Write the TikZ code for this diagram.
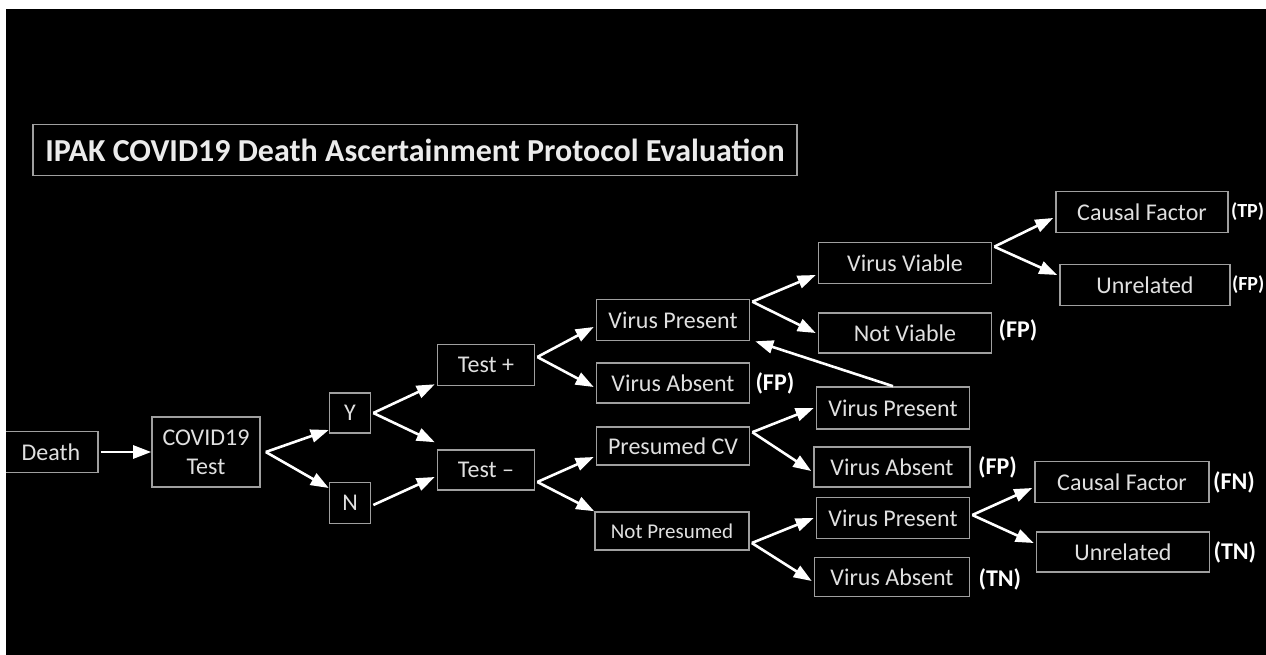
\documentclass[tikz,border=0pt]{standalone}
\usepackage{fontspec}
\setmainfont{Carlito}
\usetikzlibrary{arrows.meta, positioning, calc}

\begin{document}
\begin{tikzpicture}[
    x=1pt, y=-1pt,
    box/.style={rectangle, draw=gray!75, line width=1.6pt, minimum height=40pt, inner sep=0pt, align=center, text=white!88!black, font=\fontsize{24}{29}\selectfont},
    outcome/.style={inner sep=0pt, text=white, font=\bfseries\fontsize{24}{26}\selectfont},
    arrow/.style={-{Triangle[length=18pt,width=13pt]}, line width=2.6pt, white}
]

    % --- Background ---
    \useasboundingbox (0,0) rectangle (1266,655);
    \fill[white] (0,0) rectangle (1266,655);
    \clip (6,9) rectangle (1266,655);
    \fill[black] (6,9) rectangle (1266,655);

    % --- Title ---
    \node[box, minimum width=764pt, minimum height=51pt, text=white!92!black, font=\bfseries\fontsize{32}{34}\selectfont] (title) at (415,150) {IPAK COVID19 Death Ascertainment Protocol Evaluation};

    % --- First stages ---
    \node[box, minimum width=94pt, minimum height=41pt] (death) at (51,452) {Death};
    \node[box, minimum width=108pt, minimum height=70pt] (test) at (206,452) {COVID19\\Test};
    \node[box, minimum width=41pt] (yes) at (350,413) {Y};
    \node[box, minimum width=41pt, minimum height=41pt] (no) at (350,503) {N};
    \node[box, minimum width=97pt, minimum height=41pt] (test-pos) at (486,365) {Test +};
    \node[box, minimum width=97pt] (test-neg) at (486,470) {Test --};

    % --- Third column ---
    \node[box, minimum width=153pt, minimum height=41pt] (present-a) at (673,320) {Virus Present};
    \node[box, minimum width=153pt] (absent-a) at (673,383) {Virus Absent};
    \node[box, minimum width=153pt, minimum height=38pt] (presumed) at (673,446) {Presumed CV};
    \node[box, minimum width=154pt, minimum height=38pt, font=\fontsize{21}{24}\selectfont] (not-presumed) at (672,531) {Not Presumed};

    % --- Fourth column ---
    \node[box, minimum width=173pt, minimum height=41pt] (viable) at (905,263) {Virus Viable};
    \node[box, minimum width=173pt] (not-viable) at (905,333) {Not Viable};
    \node[box, minimum width=153pt, minimum height=42pt] (present-b) at (893,408) {Virus Present};
    \node[box, minimum width=156pt] (absent-b) at (892,467) {Virus Absent};
    \node[box, minimum width=153pt, minimum height=41pt] (present-c) at (893,518) {Virus Present};
    \node[box, minimum width=155pt, minimum height=39pt] (absent-c) at (892,577) {Virus Absent};

    % --- Last column ---
    \node[box, minimum width=172pt, minimum height=41pt] (causal-a) at (1142,212) {Causal Factor};
    \node[box, minimum width=170pt, minimum height=41pt] (unrelated-a) at (1145,285) {Unrelated};
    \node[box, minimum width=174pt, minimum height=41pt] (causal-b) at (1122,482) {Causal Factor};
    \node[box, minimum width=173pt] (unrelated-b) at (1123,552) {Unrelated};

    % --- Outcome labels ---
    \node[outcome, right=5pt of absent-a] (fp-a) {(FP)};
    \node[outcome, right=6pt of not-viable, yshift=3pt] (fp-b) {(FP)};
    \node[outcome, right=2pt of causal-a, font=\bfseries\fontsize{20}{22}\selectfont] (tp) {(TP)};
    \node[outcome, right=1pt of unrelated-a, font=\bfseries\fontsize{20}{22}\selectfont] (fp-c) {(FP)};
    \node[outcome, right=7pt of absent-b] (fp-d) {(FP)};
    \node[outcome, right=8pt of absent-c, yshift=-2pt] (tn-a) {(TN)};
    \node[outcome, right=3pt of causal-b] (fn) {(FN)};
    \node[outcome, right=3pt of unrelated-b] (tn-b) {(TN)};

    % --- Connections ---
    \draw[arrow] ([xshift=2pt]death.east) -- (test.west);

    \draw[arrow] ([xshift=5pt]test.east) -- ([yshift=-17pt]yes.west);
    \draw[arrow] ([xshift=5pt]test.east) -- ([yshift=15pt]no.west);

    \draw[arrow] ([xshift=2pt]yes.east) -- ([xshift=-2pt,yshift=2pt]test-pos.south west);
    \draw[arrow] ([xshift=2pt]yes.east) -- ([xshift=-2pt,yshift=7pt]test-neg.north west);
    \draw[arrow] ([xshift=2pt,yshift=-2pt]no.east) -- ([xshift=-2pt,yshift=-7pt]test-neg.west);

    \draw[arrow] ([xshift=2pt,yshift=8pt]test-pos.east) -- ([xshift=-2pt,yshift=-7pt]present-a.west);
    \draw[arrow] ([xshift=2pt,yshift=8pt]test-pos.east) -- ([xshift=-2pt,yshift=-4pt]absent-a.west);

    \draw[arrow] ([xshift=2pt,yshift=-12pt]test-neg.east) -- ([xshift=-2pt,yshift=-11pt]presumed.west);
    \draw[arrow] ([xshift=2pt,yshift=-12pt]test-neg.east) -- (not-presumed.north west);

    \draw[arrow] ([xshift=2pt,yshift=-3pt]present-a.north east) -- ([xshift=-2pt,yshift=-12pt]viable.west);
    \draw[arrow] ([xshift=2pt,yshift=-3pt]present-a.north east) -- ([xshift=-2pt]not-viable.west);

    \draw[arrow] ([xshift=2pt,yshift=-5pt]viable.north east) -- ([xshift=-2pt,yshift=-6pt]causal-a.west);
    \draw[arrow] ([xshift=2pt,yshift=-5pt]viable.north east) -- ([xshift=-2pt,yshift=10pt]unrelated-a.west);

    \draw[arrow] ([xshift=2pt,yshift=-6pt]presumed.north east) -- ([xshift=-2pt]present-b.west);
    \draw[arrow] ([xshift=2pt,yshift=-6pt]presumed.north east) -- ([xshift=-2pt,yshift=-4pt]absent-b.west);

    \draw[arrow] ([xshift=2pt,yshift=-12pt]not-presumed.east) -- ([xshift=-2pt]present-c.west);
    \draw[arrow] ([xshift=2pt,yshift=-12pt]not-presumed.east) -- ([xshift=-2pt,yshift=-4pt]absent-c.west);

    \draw[arrow] ([xshift=2pt,yshift=3pt]present-c.east) -- ([xshift=-2pt,yshift=-6pt]causal-b.west);
    \draw[arrow] ([xshift=2pt,yshift=3pt]present-c.east) -- ([xshift=-2pt,yshift=9pt]unrelated-b.west);

    \draw[arrow] (present-b.north) -- ([xshift=5pt]present-a.south east);

\end{tikzpicture}
\end{document}
